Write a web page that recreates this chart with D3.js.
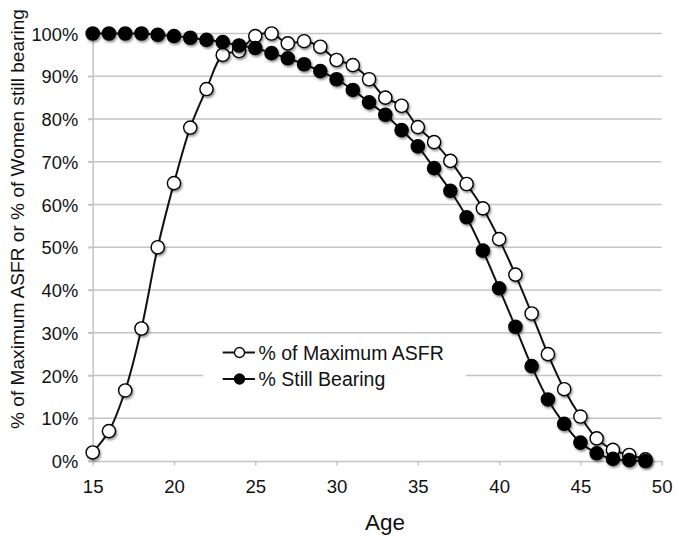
<!DOCTYPE html>
<html>
<head>
<meta charset="utf-8">
<script src="https://cdn.jsdelivr.net/npm/d3@7"></script>
<style>
  html, body { margin: 0; padding: 0; background: #fff; }
  svg { display: block; font-family: "Liberation Sans", Arial, Helvetica, sans-serif; }
</style>
</head>
<body>
<svg id="chart" width="679" height="541"></svg>
<script>
// ---- data ----
const ages = [15,16,17,18,19,20,21,22,23,24,25,26,27,28,29,30,31,32,33,34,35,36,37,38,39,40,41,42,43,44,45,46,47,48,49];
const pctMaxASFR = [2,7,16.5,31,50,65,78,87,95,95.9,99.4,100,97.7,98.2,96.9,93.8,92.6,89.3,85,83.1,78.1,74.6,70.2,64.8,59.1,51.9,43.6,34.5,25,16.8,10.4,5.3,2.6,1.4,0.4];
const pctStillBearing = [100,100,100,100,99.7,99.4,99,98.5,98,97.2,96.6,95.4,94.2,92.8,91.2,89.3,86.8,83.9,81,77.4,73.6,68.5,63.2,57,49.2,40.4,31.4,22.2,14.4,8.7,4.3,1.8,0.5,0.2,0];
const xTicks = [15,20,25,30,35,40,45,50];
const yTicks = [0,10,20,30,40,50,60,70,80,90,100];
const seriesNames = ["% of Maximum ASFR", "% Still Bearing"];
const xTitle = "Age";
const yTitle = "% of Maximum ASFR or % of Women still bearing";

// ---- layout ----
const svg = d3.select("#chart");
const x = d3.scaleLinear().domain([15, 50]).range([92.7, 661.7]);
const y = d3.scaleLinear().domain([0, 100]).range([461, 33.5]);
const gridColor = "#c4c4c4";

const defs = svg.append("defs");
const f = defs.append("filter").attr("id", "shadow")
  .attr("x", "-50%").attr("y", "-50%").attr("width", "200%").attr("height", "200%");
f.append("feDropShadow").attr("dx", 1.2).attr("dy", 1.8).attr("stdDeviation", 1.3)
  .attr("flood-color", "#000").attr("flood-opacity", 0.45);

// gridlines
svg.append("g").selectAll("line").data(yTicks.filter(d => d > 0)).join("line")
  .attr("x1", x(15) - 4.5).attr("x2", x(50))
  .attr("y1", d => y(d)).attr("y2", d => y(d))
  .attr("stroke", gridColor).attr("stroke-width", 1.5);

// y axis
const yAxis = d3.axisLeft(y).tickValues(yTicks).tickFormat(d => d + "%").tickSize(4.5).tickPadding(10);
const gy = svg.append("g").attr("transform", `translate(${x(15)},0)`).call(yAxis);
gy.select(".domain").attr("stroke", gridColor).attr("stroke-width", 1.5);
gy.selectAll(".tick line").attr("stroke", gridColor).attr("stroke-width", 1.5);
gy.selectAll(".tick text").attr("font-size", 18.3).attr("fill", "#111")
  .attr("font-family", "'Liberation Sans', Arial, sans-serif").attr("dy", "0.36em");

// x axis
const xAxis = d3.axisBottom(x).tickValues(xTicks).tickSize(4.5).tickPadding(14).tickSizeOuter(0);
const gx = svg.append("g").attr("transform", `translate(0,${y(0)})`).call(xAxis);
gx.select(".domain").attr("stroke", gridColor).attr("stroke-width", 1.5);
gx.selectAll(".tick line").attr("stroke", gridColor).attr("stroke-width", 1.5);
gx.selectAll(".tick text").attr("font-size", 18.6).attr("fill", "#111")
  .attr("font-family", "'Liberation Sans', Arial, sans-serif");

// axis titles
svg.append("text").attr("x", 385).attr("y", 530).attr("text-anchor", "middle")
  .attr("font-size", 22.5).attr("fill", "#111").text(xTitle);
svg.append("text").attr("transform", "translate(24,219) rotate(-90)").attr("text-anchor", "middle")
  .attr("font-size", 19.1).attr("fill", "#111").text(yTitle);

// series
const line = d3.line().curve(d3.curveCatmullRom.alpha(0.5))
  .x(d => x(d[0])).y(d => y(d[1]));
const dataOpen = ages.map((a, i) => [a, pctMaxASFR[i]]);
const dataFilled = ages.map((a, i) => [a, pctStillBearing[i]]);

function drawSeries(data, fill) {
  svg.append("path").datum(data).attr("d", line)
    .attr("fill", "none").attr("stroke", "#111").attr("stroke-width", 2);
  svg.append("g").attr("filter", "url(#shadow)").selectAll("circle").data(data).join("circle")
    .attr("cx", d => x(d[0])).attr("cy", d => y(d[1])).attr("r", 6.6)
    .attr("fill", fill).attr("stroke", "#000").attr("stroke-width", 1.4);
}
drawSeries(dataOpen, "#fff");
drawSeries(dataFilled, "#000");

// legend
const lg = svg.append("g");
lg.append("rect").attr("x", 203).attr("y", 340).attr("width", 263).attr("height", 56).attr("fill", "#fff");
const rows = [{name: seriesNames[0], fill: "#fff", yy: 352.5}, {name: seriesNames[1], fill: "#000", yy: 379}];
rows.forEach(r => {
  lg.append("line").attr("x1", 222.7).attr("x2", 255).attr("y1", r.yy).attr("y2", r.yy)
    .attr("stroke", "#111").attr("stroke-width", 2);
  lg.append("circle").attr("cx", 239.5).attr("cy", r.yy).attr("r", 5)
    .attr("fill", r.fill).attr("stroke", "#000").attr("stroke-width", 1.3);
  lg.append("text").attr("x", 258.5).attr("y", r.yy).attr("dy", "0.36em")
    .attr("font-size", 19.5).attr("fill", "#111").text(r.name);
});
</script>
</body>
</html>
